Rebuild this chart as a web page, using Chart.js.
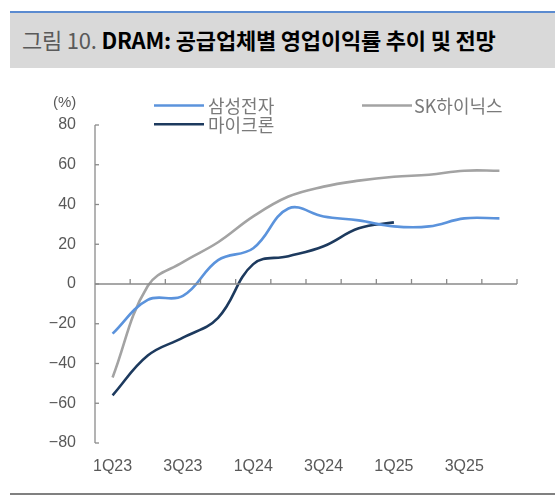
<!DOCTYPE html>
<html>
<head>
<meta charset="utf-8">
<script src="https://cdn.jsdelivr.net/npm/chart.js@4/dist/chart.umd.min.js"></script>
<style>
  html, body { margin: 0; padding: 0; background: #fff; }
  #wrap { position: relative; width: 555px; height: 497px; overflow: hidden; }
  #titlebar { position: absolute; left: 10px; top: 11px; width: 545px; height: 57px;
    background: #d9d9d9; border-top: 2px solid #5b8bd0; box-sizing: border-box; }
  #title { position: absolute; left: 12px; top: 13px; font-family: "Noto Sans CJK KR", sans-serif;
    font-size: 22px; line-height: 26px; white-space: nowrap; letter-spacing: -0.2px; }
  #title .fig { color: #5a5a5a; font-weight: normal; }
  #title .main { color: #000; font-weight: bold; }
  #bottomline { position: absolute; left: 10px; top: 493px; width: 545px; height: 2px; background: #808080; }
  #c { position: absolute; left: 0; top: 0; }
</style>
</head>
<body>
<div id="wrap">
  <div id="titlebar"><div id="title"><span class="fig">그림 10. </span><span class="main">DRAM: 공급업체별 영업이익률 추이 및 전망</span></div></div>
  <canvas id="c" width="555" height="497"></canvas>
  <div id="bottomline"></div>
</div>
<script>
const quarters = ['1Q23','2Q23','3Q23','4Q23','1Q24','2Q24','3Q24','4Q24','1Q25','2Q25','3Q25','4Q25'];
const samsung  = [-25, -8, -6, 12, 18, 38, 34, 32, 29, 29, 33, 33];
const skHynix  = [-47, -1, 11, 21, 34, 44, 49, 52, 54, 55, 57, 57];
const micron   = [-56, -36, -27, -17, 10, 14, 19, 28, 31];
const seriesNames = ['삼성전자', 'SK하이닉스', '마이크론'];
const yMin = -80, yMax = 80, yStep = 20;
const unitLabel = '(%)';

const axisColor = '#8a8a8a';
const textColor = '#595959';

const customAxes = {
  id: 'customAxes',
  afterDatasetsDraw(chart) {
    const ctx = chart.ctx;
    const x = chart.scales.x, y = chart.scales.y;
    const a = chart.chartArea;
    ctx.save();
    ctx.strokeStyle = axisColor;
    ctx.lineWidth = 1.3;
    ctx.beginPath();
    ctx.moveTo(a.left, a.top); ctx.lineTo(a.left, a.bottom); ctx.stroke();
    y.ticks.forEach(t => {
      const py = y.getPixelForValue(t.value);
      ctx.beginPath(); ctx.moveTo(a.left, py); ctx.lineTo(a.left + 4, py); ctx.stroke();
    });
    const zy = y.getPixelForValue(0);
    ctx.beginPath(); ctx.moveTo(a.left, zy); ctx.lineTo(a.right, zy); ctx.stroke();
    for (let i = 1; i <= quarters.length; i++) {
      const px = x.getPixelForValue(i - 0.5);
      ctx.beginPath(); ctx.moveTo(px, zy); ctx.lineTo(px, zy - 5); ctx.stroke();
    }
    ctx.restore();
  },
  afterDraw(chart) {
    const ctx = chart.ctx;
    ctx.save();
    ctx.fillStyle = textColor;
    ctx.font = '15px "Liberation Sans", sans-serif';
    ctx.textAlign = 'left'; ctx.textBaseline = 'middle';
    ctx.fillText(unitLabel, 53, 103);
    const pos = [
      {lx: 154, ly: 105.5, tx: 208},
      {lx: 362, ly: 105.5, tx: 414},
      {lx: 154, ly: 124.3, tx: 208}
    ];
    ctx.font = '18px "Noto Sans CJK KR", sans-serif';
    chart.data.datasets.forEach((ds, i) => {
      const p = pos[i];
      ctx.strokeStyle = ds.borderColor;
      ctx.lineWidth = 2.5;
      ctx.beginPath(); ctx.moveTo(p.lx, p.ly); ctx.lineTo(p.lx + 50, p.ly); ctx.stroke();
      ctx.fillStyle = '#7a7a7a';
      ctx.fillText(ds.label, p.tx, p.ly + 1);
    });
    ctx.restore();
  }
};

new Chart(document.getElementById('c'), {
  type: 'line',
  data: {
    labels: quarters,
    datasets: [
      { label: seriesNames[0], data: samsung, borderColor: '#5b93dc' },
      { label: seriesNames[1], data: skHynix, borderColor: '#a3a3a3' },
      { label: seriesNames[2], data: micron, borderColor: '#1d3a5e' }
    ].map(d => Object.assign(d, { borderWidth: 2.6, pointRadius: 0, tension: 0.4, fill: false, backgroundColor: d.borderColor }))
  },
  options: {
    responsive: false,
    animation: false,
    devicePixelRatio: 1,
    layout: { padding: { left: 0, right: 38, top: 125, bottom: 0 } },
    plugins: { legend: { display: false }, tooltip: { enabled: false }, title: { display: false } },
    scales: {
      x: {
        type: 'category',
        offset: true,
        grid: { display: false, drawTicks: false },
        border: { display: false },
        ticks: {
          autoSkip: false, maxRotation: 0, padding: 14, color: textColor,
          font: { family: '"Liberation Sans", sans-serif', size: 16 },
          callback: function(v, i) { return i % 2 === 0 ? quarters[i] : ''; }
        },
        afterFit(s) { s.height = 54; }
      },
      y: {
        min: yMin, max: yMax,
        grid: { display: false, drawTicks: false },
        border: { display: false },
        ticks: {
          stepSize: yStep, padding: 19, color: textColor,
          font: { family: '"Liberation Sans", sans-serif', size: 16 },
          callback: v => (v < 0 ? '\u2212' + Math.abs(v) : String(v))
        },
        afterFit(s) { s.width = 95; }
      }
    }
  },
  plugins: [customAxes]
});
</script>
</body>
</html>
